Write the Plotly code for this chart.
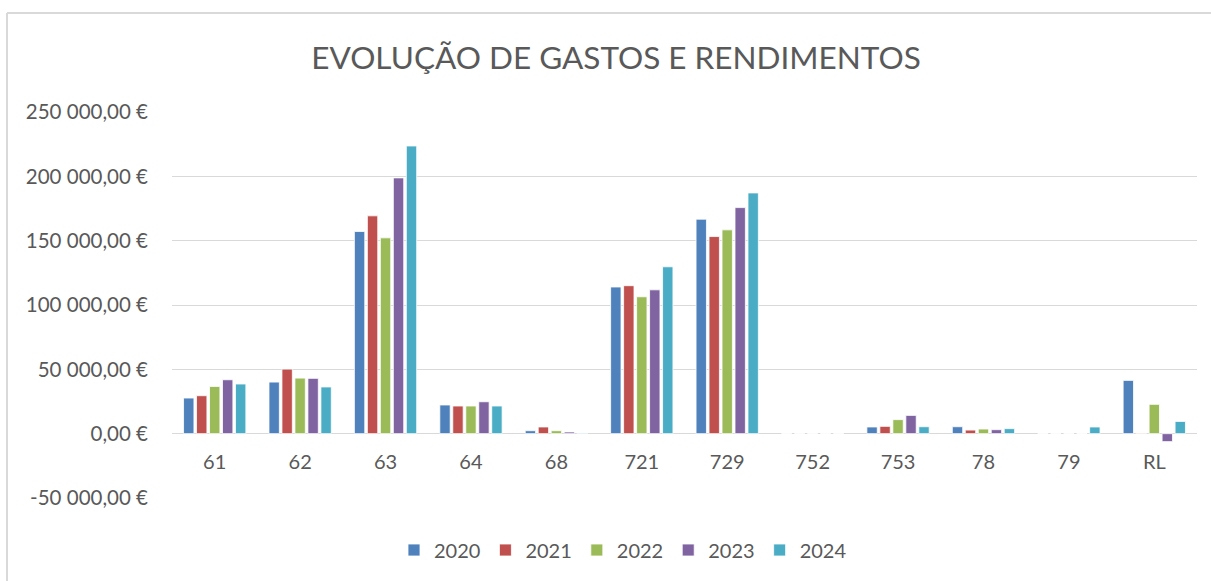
import plotly.graph_objects as go

categories = ["61", "62", "63", "64", "68", "721", "729", "752", "753", "78", "79", "RL"]
years = ["2020", "2021", "2022", "2023", "2024"]
v2020 = [27700, 40100, 157100, 22300, 2300, 114000, 166700, 0, 5200, 5400, 0, 41400]
v2021 = [29500, 50200, 169300, 21500, 5200, 115000, 153200, 0, 5700, 2800, 0, 400]
v2022 = [36700, 43200, 152200, 21500, 2300, 106400, 158400, 0, 10900, 3600, 0, 22800]
v2023 = [41900, 43000, 198800, 24800, 1300, 111800, 175700, 0, 14200, 3100, 0, -6200]
v2024 = [38600, 36300, 223600, 21500, 500, 129700, 187100, 0, 5400, 3900, 5200, 9500]
series = [v2020, v2021, v2022, v2023, v2024]
colors = ["#4F81BD", "#C0504D", "#9BBB59", "#8064A2", "#4BACC6"]

tick_vals = [-50000, 0, 50000, 100000, 150000, 200000, 250000]
tick_text = ["-50 000,00 €", "0,00 €", "50 000,00 €", "100 000,00 €",
             "150 000,00 €", "200 000,00 €", "250 000,00 €"]

FONT = "Lato"
GREY = "#595959"

fig = go.Figure()
for name, vals, col in zip(years, series, colors):
    fig.add_trace(go.Bar(
        x=categories, y=vals, name=name,
        marker=dict(color=col, line=dict(color="white", width=0.8)),
    ))

l, r, t, b = 172, 14, 112, 83
W, H = 1211, 581
pw, ph = W - l - r, H - t - b

fig.update_layout(
    width=W, height=H,
    margin=dict(l=l, r=r, t=t, b=b, autoexpand=False),
    paper_bgcolor="white", plot_bgcolor="white",
    barmode="group", bargap=0.24, bargroupgap=0.2,
    title=dict(text="EVOLUÇÃO DE GASTOS E RENDIMENTOS", x=616 / W, xref="container",
               xanchor="center", y=1 - 58 / H, yref="container", yanchor="middle",
               font=dict(family=FONT, size=31.5, color=GREY)),
    font=dict(family=FONT, color=GREY, size=20),
    legend=dict(orientation="h", x=623 / W, xanchor="center", xref="container",
                y=1 - 550 / H, yref="container", yanchor="middle",
                font=dict(family=FONT, size=20, color=GREY),
                itemwidth=30, traceorder="normal"),
    xaxis=dict(type="category", anchor="free", position=1 / 6, automargin=False,
               showline=False, showgrid=False, ticks="", ticklabelstandoff=14,
               tickfont=dict(family=FONT, size=20, color=GREY)),
    yaxis=dict(range=[-50000, 250000], tickvals=tick_vals, ticktext=tick_text,
               automargin=False,
               showgrid=True, gridcolor="#D9D9D9", gridwidth=1.3,
               zeroline=True, zerolinecolor="#D9D9D9", zerolinewidth=1.3,
               showline=False, ticks="", ticklabelstandoff=23,
               tickfont=dict(family=FONT, size=20.5, color=GREY)),
    showlegend=True,
)

# chart area border (top and left edges visible)
fig.add_shape(type="line", xref="paper", yref="paper",
              x0=(7 - l) / pw, x1=(W + 5 - l) / pw,
              y0=(H - b - 13) / ph, y1=(H - b - 13) / ph,
              line=dict(color="#D9D9D9", width=2))
fig.add_shape(type="line", xref="paper", yref="paper",
              x0=(7 - l) / pw, x1=(7 - l) / pw,
              y0=(H - b - 13) / ph, y1=-(b + 10) / ph,
              line=dict(color="#D9D9D9", width=2))

fig.write_html("out.html", config={"displayModeBar": False},
               post_script="document.body.style.margin='0';document.body.style.overflow='hidden';")
